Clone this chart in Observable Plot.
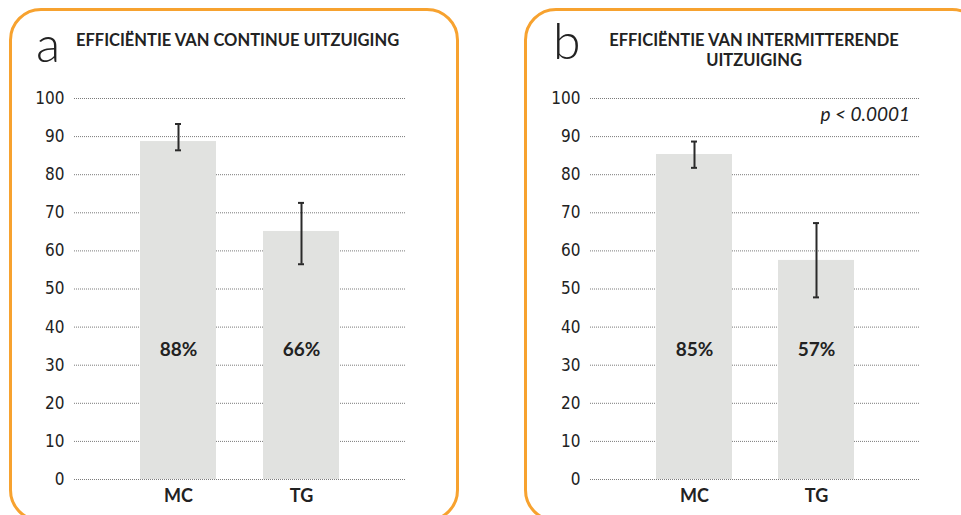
<!DOCTYPE html>
<html>
<head>
<meta charset="utf-8">
<script src="https://cdn.jsdelivr.net/npm/d3@7"></script>
<script src="https://cdn.jsdelivr.net/npm/@observablehq/plot@0.6"></script>
<style>
  html, body { margin: 0; padding: 0; background: #fff; }
  #page { position: relative; width: 961px; height: 515px; overflow: hidden; font-family: Lato, "Noto Sans", sans-serif; }
  .box { position: absolute; border: 3px solid #F7A22F; border-radius: 32px; box-sizing: border-box; }
  .plot { position: absolute; top: 0; }
  .letter { position: absolute; font-family: Lato, sans-serif; font-weight: 300; font-size: 50px; color: #222; line-height: 1; }
  .title { position: absolute; font-family: Lato, sans-serif; font-weight: 700; font-size: 16.5px; color: #222; line-height: 20px; }
  .pval { position: absolute; font-family: Lato, sans-serif; font-style: italic; font-size: 19px; color: #222; }
</style>
</head>
<body>
<div id="page">
  <div class="box" style="left:9px; top:8px; width:450px; height:514px;"></div>
  <div class="box" style="left:524px; top:8px; width:460px; height:514px;"></div>
  <div class="letter" style="left:36px; top:18px;">a</div>
  <div class="letter" style="left:553px; top:15px;">b</div>
  <div class="title" style="left:76px; top:30px;">EFFICIËNTIE VAN CONTINUE UITZUIGING</div>
  <div class="title" style="left:584px; width:340px; top:30px; text-align:center;">EFFICIËNTIE VAN INTERMITTERENDE<br>UITZUIGING</div>
  <div class="pval" style="left:780px; width:130px; top:102px; text-align:right;">p &lt; 0.0001</div>
  <div id="pa" class="plot" style="left:0px;"></div>
  <div id="pb" class="plot" style="left:480px;"></div>
</div>
<script>
const categories = ["MC", "TG"];
const yTicks = [0, 10, 20, 30, 40, 50, 60, 70, 80, 90, 100];

// Panel a: continuous suction
const valuesA = [88.7, 65.1];
const errLowA = [86.4, 56.5];
const errHighA = [93.3, 72.6];
const labelsA = ["88%", "66%"];

// Panel b: intermittent suction
const valuesB = [85.3, 57.5];
const errLowB = [81.8, 47.8];
const errHighB = [88.7, 67.3];
const labelsB = ["85%", "57%"];

function rows(values, lo, hi, labels) {
  return categories.map((c, i) => ({cat: c, v: values[i], lo: lo[i], hi: hi[i], label: labels[i]}));
}

function panel(data, width, marginLeft, marginRight) {
  return Plot.plot({
    width, height: 515,
    marginLeft, marginRight, marginTop: 98, marginBottom: 36,
    style: {fontFamily: "Lato, sans-serif", background: "transparent", overflow: "visible"},
    x: {domain: categories, paddingInner: 0.38, paddingOuter: 0.535, label: null},
    y: {domain: [0, 100], label: null},
    marks: [
      Plot.ruleY(yTicks, {stroke: "#7a7a7a", strokeWidth: 1, strokeDasharray: "1,1"}),
      Plot.barY(data, {x: "cat", y: "v", fill: "#E1E2E0"}),
      Plot.ruleX(data, {x: "cat", y1: "lo", y2: "hi", stroke: "#2a2a2a", strokeWidth: 2}),
      Plot.tickY(data, {x: "cat", y: "lo", stroke: "#2a2a2a", strokeWidth: 2, insetLeft: 35, insetRight: 35}),
      Plot.tickY(data, {x: "cat", y: "hi", stroke: "#2a2a2a", strokeWidth: 2, insetLeft: 35, insetRight: 35}),
      Plot.text(data, {x: "cat", y: 34, text: "label", fontSize: 19, fontWeight: 700, fill: "#222"}),
      Plot.axisY({ticks: yTicks, tickSize: 0, tickPadding: 10, fontSize: 17, fill: "#222",
        fontFamily: "'Liberation Sans Narrow', 'DejaVu Sans Condensed', sans-serif", label: null}),
      Plot.axisX({tickSize: 0, tickPadding: 10, fontSize: 18, fontWeight: 700, fill: "#222", label: null})
    ]
  });
}

document.getElementById("pa").append(panel(rows(valuesA, errLowA, errHighA, labelsA), 480, 74, 75));
document.getElementById("pb").append(panel(rows(valuesB, errLowB, errHighB, labelsB), 481, 110, 41));
</script>
</body>
</html>
